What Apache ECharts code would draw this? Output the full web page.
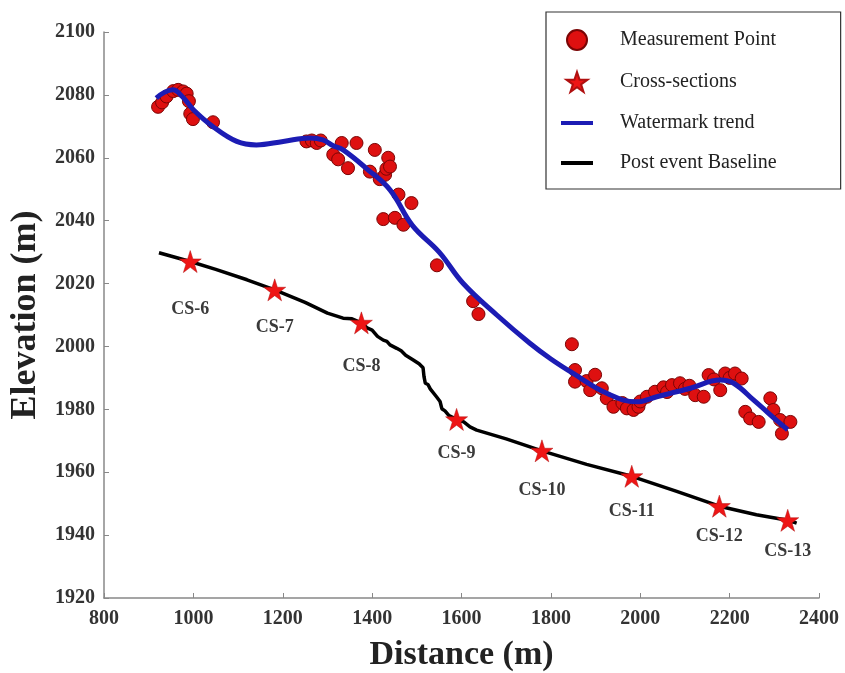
<!DOCTYPE html>
<html>
<head>
<meta charset="utf-8">
<script src="https://cdn.jsdelivr.net/npm/echarts@6/dist/echarts.min.js"></script>
<style>
html, body { margin: 0; padding: 0; background: #fff; }
#main { width: 845px; height: 673px; }
</style>
</head>
<body>
<div id="main"></div>
<script>
// axis ticks
const xTicks = [800, 1000, 1200, 1400, 1600, 1800, 2000, 2200, 2400]
const yTicks = [1920, 1940, 1960, 1980, 2000, 2020, 2040, 2060, 2080, 2100]

// measurement points [distance, elevation]
const measurePts = [
  [921, 2076.2], [930, 2077.6], [940, 2079.5], [955, 2081.2], [966, 2081.6], [977, 2081.1],
  [985, 2080.4], [990, 2078.0], [993, 2074.0], [999, 2072.3], [1044, 2071.3],
  [1253, 2065.2], [1265, 2065.5], [1276, 2064.7], [1285, 2065.5],
  [1313, 2061.0], [1324, 2059.5], [1346, 2056.7], [1332, 2064.7], [1365, 2064.7],
  [1395, 2055.6], [1406, 2062.5], [1417, 2053.2], [1429, 2054.6], [1432, 2056.5],
  [1436, 2060.0], [1440, 2057.2], [1459, 2048.3], [1488, 2045.6], [1425, 2040.5],
  [1451, 2040.9], [1470, 2038.7], [1545, 2025.8], [1626, 2014.4], [1638, 2010.3],
  [1847, 2000.7], [1854, 1992.5], [1854, 1988.8], [1880, 1989.0], [1888, 1986.1],
  [1899, 1991.0], [1914, 1986.7], [1925, 1983.5], [1940, 1980.8], [1960, 1982.0],
  [1970, 1980.3], [1985, 1979.8], [1996, 1980.8], [2000, 1982.5], [2015, 1984.0],
  [2033, 1985.6], [2052, 1987.0], [2060, 1985.5], [2071, 1987.7], [2089, 1988.3],
  [2100, 1986.5], [2110, 1987.5], [2123, 1984.5], [2142, 1984.0], [2153, 1990.9],
  [2165, 1989.5], [2179, 1986.1], [2190, 1991.4], [2200, 1990.0], [2212, 1991.4],
  [2227, 1989.8], [2235, 1979.2], [2246, 1977.1], [2265, 1976.0], [2291, 1983.5],
  [2298, 1979.8], [2313, 1976.6], [2317, 1972.3], [2336, 1976.0]
]

// watermark trend curve
const trendPts = [
  [917, 2079.0], [935, 2080.8], [954, 2081.6], [975, 2079.5], [1000, 2075.3],
  [1044, 2069.9], [1097, 2065.2], [1141, 2064.1], [1201, 2065.2], [1261, 2066.3],
  [1290, 2065.7], [1313, 2063.8], [1335, 2062.5], [1388, 2056.5], [1440, 2049.8],
  [1490, 2038.5], [1550, 2030.0], [1604, 2020.0], [1679, 2010.0], [1753, 2001.0],
  [1800, 1996.0], [1850, 1991.4], [1925, 1985.1], [1992, 1982.4], [2037, 1984.0],
  [2112, 1986.7], [2179, 1989.3], [2209, 1988.3], [2254, 1982.9], [2313, 1975.5],
  [2330, 1973.5]
]

// post event baseline
const baselinePts = [
  [923, 2029.8], [993, 2027.0], [1050, 2024.5], [1120, 2021.2], [1182, 2018.0],
  [1250, 2014.0], [1300, 2010.6], [1335, 2009.0], [1355, 2008.8], [1376, 2007.5],
  [1390, 2005.8], [1400, 2005.2], [1412, 2003.2], [1425, 2002.0], [1433, 2001.6],
  [1440, 2000.5], [1455, 1999.4], [1465, 1998.6], [1475, 1997.2], [1492, 1995.7],
  [1505, 1994.5], [1514, 1993.2], [1516, 1990.5], [1519, 1988.3], [1525, 1987.9],
  [1530, 1986.5], [1544, 1984.0], [1552, 1982.5], [1556, 1980.2], [1563, 1979.5],
  [1572, 1978.0], [1589, 1976.8], [1605, 1976.0], [1619, 1974.4], [1634, 1973.4],
  [1700, 1970.6], [1780, 1966.8], [1880, 1962.5], [1981, 1958.7], [2080, 1954.0],
  [2177, 1949.2], [2260, 1946.5], [2330, 1944.7], [2350, 1943.8]
]

// cross-sections
const csNames = ['CS-6', 'CS-7', 'CS-8', 'CS-9', 'CS-10', 'CS-11', 'CS-12', 'CS-13']
const csDist = [993, 1182, 1376, 1589, 1780, 1981, 2177, 2330]
const csElev = [2027.0, 2018.0, 2007.5, 1976.8, 1966.8, 1958.7, 1949.2, 1944.7]
// gap of each label under its star
const labelDrop = [28, 17, 23, 14, 19, 15, 10, 11]

const SERIF = '"Liberation Serif", "Times New Roman", serif'
const STAR = 'path://M50,0 L61.8,35.5 L99,35.5 L69,57.5 L80.5,93 L50,71 L19.5,93 L31,57.5 L1,35.5 L38.2,35.5 Z'
const BAR = 'path://M0,0 L32,0 L32,4 L0,4 Z'

const csData = csNames.map((n, i) => ({
  name: n,
  value: [csDist[i], csElev[i]],
  label: { distance: labelDrop[i] }
}))

const myChart = echarts.init(document.getElementById('main'))
const option = {
  animation: false,
  backgroundColor: '#fff',
  grid: { left: 104, right: 26, top: 32, bottom: 75, containLabel: false, outerBoundsMode: 'none' },
  legend: {
    left: 546,
    top: 12,
    orient: 'vertical',
    backgroundColor: '#fff',
    borderColor: '#333',
    borderWidth: 1.2,
    borderRadius: 0,
    padding: [17, 64, 16, 15],
    itemWidth: 32,
    itemHeight: 20,
    itemGap: 20,
    textStyle: { fontFamily: SERIF, fontSize: 20, color: '#222', padding: [0, 0, 0, 22] },
    data: [
      { name: 'Measurement Point', icon: 'circle' },
      { name: 'Cross-sections', icon: STAR },
      { name: 'Watermark trend', icon: BAR },
      { name: 'Post event Baseline', icon: BAR }
    ]
  },
  xAxis: {
    type: 'value',
    min: xTicks[0],
    max: xTicks[xTicks.length - 1],
    interval: 200,
    name: 'Distance (m)',
    nameLocation: 'middle',
    nameGap: 40,
    nameTextStyle: { fontFamily: SERIF, fontSize: 34, fontWeight: 'bold', color: '#222' },
    axisLine: { lineStyle: { color: '#888', width: 1.5 } },
    axisTick: { inside: true, length: 5, lineStyle: { color: '#888' } },
    axisLabel: { fontFamily: SERIF, fontSize: 20, fontWeight: 'bold', color: '#333', margin: 11, formatter: v => String(v) },
    splitLine: { show: false }
  },
  yAxis: {
    type: 'value',
    min: yTicks[0],
    max: yTicks[yTicks.length - 1],
    interval: 20,
    name: 'Elevation (m)',
    nameLocation: 'middle',
    nameGap: 58,
    nameTextStyle: { fontFamily: SERIF, fontSize: 36, fontWeight: 'bold', color: '#222' },
    axisLine: { show: true, lineStyle: { color: '#888', width: 1.5 } },
    axisTick: { show: true, inside: true, length: 5, lineStyle: { color: '#888' } },
    axisLabel: { fontFamily: SERIF, fontSize: 20, fontWeight: 'bold', color: '#333', margin: 9, formatter: v => String(v) },
    splitLine: { show: false }
  },
  series: [
    {
      name: 'Measurement Point',
      type: 'scatter',
      data: measurePts,
      symbol: 'circle',
      symbolSize: 13,
      itemStyle: { color: '#de1010', borderColor: '#7a0505', borderWidth: 1, opacity: 1 },
      z: 2
    },
    {
      name: 'Watermark trend',
      type: 'line',
      data: trendPts,
      smooth: 0.4,
      showSymbol: false,
      color: '#1c1cb4',
      itemStyle: { color: '#1c1cb4' },
      lineStyle: { color: '#1c1cb4', width: 5 },
      z: 3
    },
    {
      name: 'Post event Baseline',
      type: 'line',
      data: baselinePts,
      showSymbol: false,
      color: '#000',
      itemStyle: { color: '#000' },
      lineStyle: { color: '#000', width: 3.5 },
      z: 3
    },
    {
      name: 'Cross-sections',
      type: 'scatter',
      data: csData,
      symbol: STAR,
      symbolSize: 22,
      itemStyle: { color: '#ee1515', borderColor: '#b01010', borderWidth: 0.5, opacity: 1 },
      label: {
        show: true,
        position: 'bottom',
        formatter: '{b}',
        fontFamily: SERIF,
        fontSize: 18,
        fontWeight: 'bold',
        color: '#3a3a3a'
      },
      z: 4
    }
  ]
}
myChart.setOption(option)
</script>
</body>
</html>
